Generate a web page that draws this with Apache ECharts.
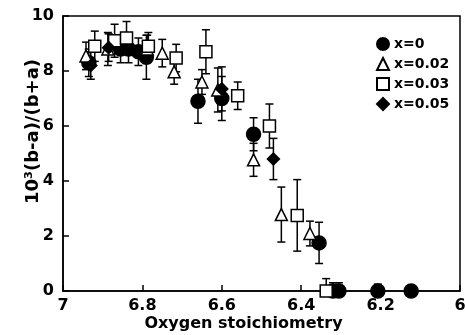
<!DOCTYPE html>
<html>
<head>
<meta charset="utf-8">
<script src="https://cdn.jsdelivr.net/npm/echarts@6/dist/echarts.min.js"></script>
<style>
  html, body { margin: 0; padding: 0; background: #fff; }
  #chart { width: 465px; height: 335px; }
</style>
</head>
<body>
<div id="chart"></div>
<script>
// x = 0 (filled circles)
const x0X = [6.935, 6.855, 6.835, 6.81, 6.79, 6.66, 6.60, 6.52, 6.355, 6.32, 6.305, 6.207, 6.123];
const x0Y = [8.3, 8.8, 8.8, 8.7, 8.5, 6.9, 7.0, 5.7, 1.75, 0, 0, 0, 0];
const x0Err = [0.5, 0.5, 0.5, 0.5, 0.8, 0.8, 0.8, 0.6, 0.75, 0.3, 0.3, 0.25, 0];

// x = 0.02 (open triangles)
const x02X = [6.942, 6.887, 6.788, 6.75, 6.72, 6.65, 6.61, 6.52, 6.45, 6.378];
const x02Y = [8.55, 8.8, 8.8, 8.65, 7.97, 7.6, 7.31, 4.77, 2.78, 2.09];
const x02Err = [0.5, 0.6, 0.5, 0.5, 0.45, 0.45, 0.8, 0.6, 1.0, 0.45];

// x = 0.03 (open squares)
const x03X = [6.92, 6.87, 6.84, 6.785, 6.715, 6.64, 6.56, 6.48, 6.41, 6.337];
const x03Y = [8.9, 9.1, 9.2, 8.9, 8.47, 8.7, 7.1, 6.0, 2.75, 0];
const x03Err = [0.55, 0.6, 0.6, 0.5, 0.5, 0.8, 0.5, 0.8, 1.3, 0.45];

// x = 0.05 (filled diamonds)
const x05X = [6.93, 6.885, 6.60, 6.47];
const x05Y = [8.2, 8.85, 7.35, 4.8];
const x05Err = [0.5, 0.5, 0.8, 0.75];

const seriesNames = ['x=0', 'x=0.02', 'x=0.03', 'x=0.05'];
const seriesSymbols = ['circle', 'triangle', 'rect', 'diamond'];
const seriesFilled = [true, false, false, true];
const seriesData = [
    [x0X, x0Y, x0Err],
    [x02X, x02Y, x02Err],
    [x03X, x03Y, x03Err],
    [x05X, x05Y, x05Err]
];

const FONT = '"DejaVu Sans", "Liberation Sans", Arial, sans-serif';

function buildPoints(d) {
    return d[0].map(function(x, i) { return [x, d[1][i], d[2][i]]; });
}

function errorBarItem(params, api) {
    const x = api.value(0), y = api.value(1), e = api.value(2);
    if (!e) return null;
    const top = api.coord([x, y + e]);
    const bot = api.coord([x, Math.max(0, y - e)]);
    const cap = 4;
    const style = { stroke: '#000', lineWidth: 1.5 };
    const children = [
        { type: 'line', shape: { x1: top[0], y1: top[1], x2: bot[0], y2: bot[1] }, style: style },
        { type: 'line', shape: { x1: top[0] - cap, y1: top[1], x2: top[0] + cap, y2: top[1] }, style: style }
    ];
    if (y - e > 0) {
        children.push({ type: 'line', shape: { x1: bot[0] - cap, y1: bot[1], x2: bot[0] + cap, y2: bot[1] }, style: style });
    }
    return { type: 'group', children: children };
}

const chart = echarts.init(document.getElementById('chart'));

const series = [];
seriesData.forEach(function(d, k) {
    series.push({
        name: seriesNames[k] + ' err',
        type: 'custom',
        renderItem: errorBarItem,
        data: buildPoints(d),
        z: 1,
        silent: true
    });
});
seriesData.forEach(function(d, k) {
    series.push({
        name: seriesNames[k],
        type: 'scatter',
        symbol: seriesSymbols[k],
        symbolSize: k === 0 ? 14 : 12,
        data: buildPoints(d),
        z: 5,
        itemStyle: {
            color: seriesFilled[k] ? '#000' : '#fff',
            borderColor: '#000',
            borderWidth: 1.5,
            opacity: 1
        }
    });
});

const option = {
    animation: false,
    backgroundColor: '#fff',
    grid: {
        left: 63,
        right: 5,
        top: 16,
        bottom: 44,
        outerBoundsMode: 'none',
        show: true,
        borderColor: '#000',
        borderWidth: 1.5
    },
    legend: {
        data: seriesNames.map(function(n, k) {
            return { name: n, icon: seriesSymbols[k] };
        }),
        orient: 'vertical',
        left: 376,
        top: 37,
        padding: 0,
        itemWidth: 12,
        itemHeight: 12,
        itemGap: 6,
        textStyle: {
            fontFamily: FONT,
            fontWeight: 'bold',
            fontSize: 14,
            color: '#000'
        }
    },
    xAxis: {
        type: 'value',
        inverse: true,
        min: 6,
        max: 7,
        interval: 0.2,
        name: 'Oxygen stoichiometry',
        nameLocation: 'middle',
        nameGap: 25,
        nameMoveOverlap: false,
        nameTextStyle: {
            fontFamily: FONT,
            fontWeight: 'bold',
            fontSize: 16,
            color: '#000',
            padding: [0, 36, 0, 0]
        },
        axisLine: { lineStyle: { color: '#000', width: 1.5 } },
        axisTick: { inside: true, length: 6, lineStyle: { color: '#000', width: 1.5 } },
        splitLine: { show: false },
        axisLabel: {
            margin: 7,
            fontFamily: FONT,
            fontWeight: 'bold',
            fontSize: 16,
            color: '#000',
            formatter: function(v) { return String(Math.round(v * 10) / 10); }
        }
    },
    yAxis: {
        type: 'value',
        min: 0,
        max: 10,
        interval: 2,
        name: '10³(b-a)/(b+a)',
        nameLocation: 'middle',
        nameGap: 21,
        nameMoveOverlap: false,
        nameTextStyle: {
            fontFamily: FONT,
            fontWeight: 'bold',
            fontSize: 18,
            color: '#000',
            padding: [0, 0, 0, 44]
        },
        axisLine: { lineStyle: { color: '#000', width: 1.5 } },
        axisTick: { inside: true, length: 6, lineStyle: { color: '#000', width: 1.5 } },
        splitLine: { show: false },
        axisLabel: {
            margin: 9,
            fontFamily: FONT,
            fontWeight: 'bold',
            fontSize: 16,
            color: '#000'
        }
    },
    series: series
};

chart.setOption(option);
window.addEventListener('resize', function() { chart.resize(); });
</script>
</body>
</html>
